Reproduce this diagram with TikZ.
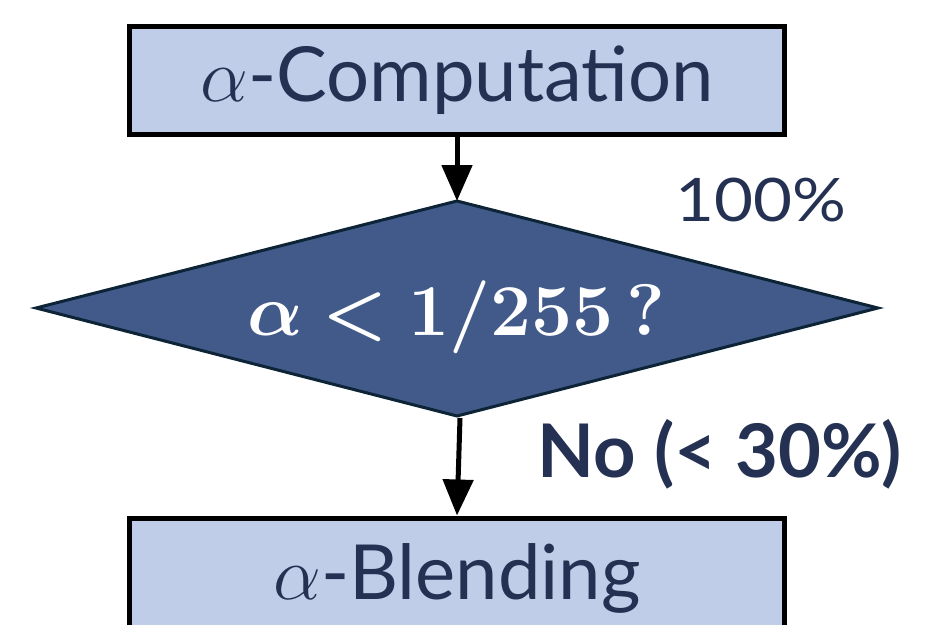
\RequirePackage{fix-cm}
\documentclass[tikz,border=0pt]{standalone}
\usepackage{amsmath,bm}
\usepackage{fontspec}
\setmainfont{Lato}
\usetikzlibrary{shapes.geometric,arrows.meta}
\definecolor{boxfill}{HTML}{BFCDE8}
\definecolor{diafill}{HTML}{425A8A}
\definecolor{diaedge}{HTML}{0D2436}
\definecolor{txtnavy}{HTML}{243152}
\newcommand{\lmbx}{\usefont{TU}{lmr}{bx}{n}}
\tikzset{
  procbox/.style={draw=black,line width=5pt,fill=boxfill,minimum width=655pt,minimum height=108pt,inner sep=0pt,text=txtnavy,font=\fontsize{76}{80}\selectfont},
  flowarrow/.style={line width=5pt,-{Triangle[length=36pt,width=30pt]}},
  lbl/.style={text=txtnavy,inner sep=0pt}
}
\begin{document}
\begin{tikzpicture}[x=1pt,y=-1pt]
\useasboundingbox (0,0) rectangle (950,624);
\node[procbox] (comp) at (457,80) {$\alpha$-Computation};
\coordinate (dl) at (36,308);
\coordinate (dr) at (878,308);
\coordinate (dt) at (457,201);
\coordinate (db) at (457,416);
\draw[fill=diafill,draw=diaedge,line width=3pt,line join=miter] (dl) -- (dt) -- (dr) -- (db) -- cycle;
\node[text=white,inner sep=0pt,font=\fontsize{73}{77}\selectfont] (cond) at (456,317) {$\bm{\alpha}\mathrel{\bm{<}}\text{\lmbx 1/255\,?}$};
\node[procbox,minimum height=120pt] (blend) at (457,578) {$\alpha$-Blending};
\draw[flowarrow] (comp.south) -- (dt);
\coordinate (a2s) at (460,418);
\draw[flowarrow] (a2s) -- (blend.north);
\node[lbl,font=\fontsize{60}{64}\selectfont,xscale=1.12] (pct) at (761,200) {100\%};
\node[lbl,font=\fontsize{74}{78}\selectfont\bfseries] (no) at (720,454) {No (< 30\%)};
\end{tikzpicture}
\end{document}
